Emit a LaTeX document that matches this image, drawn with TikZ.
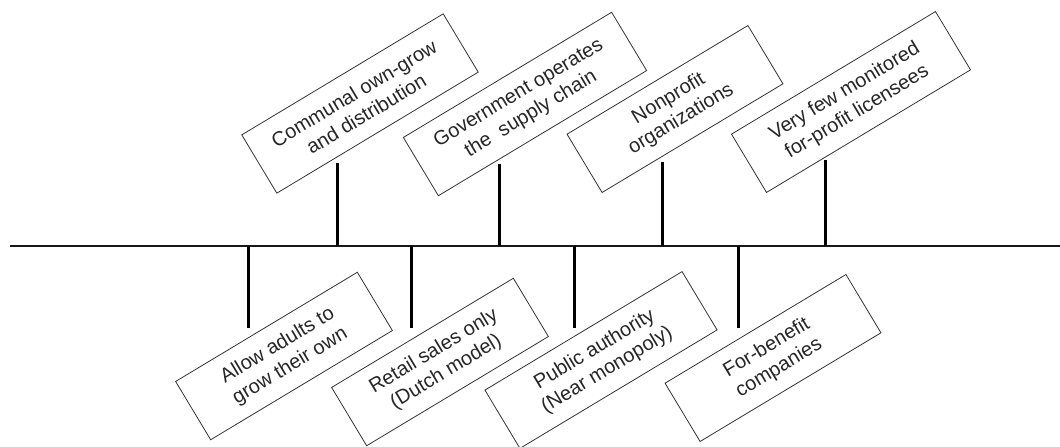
\documentclass[tikz,border=0pt]{standalone}
\usepackage{fontspec}
\setmainfont{Liberation Sans}
\begin{document}
\begin{tikzpicture}[x=1pt,y=-1pt,
  lab/.style={draw=black!80, line width=0.8pt, rectangle, rotate=31, minimum height=68pt,
    align=center, inner sep=1pt, text=black!85, font=\fontsize{20}{24}\selectfont},
  axis/.style={line width=2.6pt, black!90},
  tick/.style={line width=3pt, black}]
\useasboundingbox (0,0) rectangle (1060,447);
% axis
\coordinate (L) at (10,246);
\coordinate (R) at (1060,246);
\draw[axis] (L) -- (R);
% top boxes
\node[lab, minimum width=235pt] (b1) at (360,103.5) {Communal own-grow\\and distribution};
\node[lab, minimum width=243pt] (b2) at (525,104) {Government operates\\the\ \ supply chain};
\node[lab, minimum width=211pt] (b3) at (675,109) {Nonprofit\\organizations};
\node[lab, minimum width=238pt] (b4) at (851,102) {Very few monitored\\for-profit licensees};
% bottom boxes
\node[lab, minimum width=212pt] (b5) at (284,356) {Allow adults to\\grow their own};
\node[lab, minimum width=212pt] (b6) at (440,362) {Retail sales only\\(Dutch model)};
\node[lab, minimum width=230pt] (b7) at (601,360) {Public authority\\(Near monopoly)};
\node[lab, minimum width=211pt] (b8) at (773,358) {For-benefit\\companies};
% tick coordinates
\coordinate (a1) at (337,246); \coordinate (e1) at (337,163);
\coordinate (a2) at (499,246); \coordinate (e2) at (499,164);
\coordinate (a3) at (662,246); \coordinate (e3) at (662,162);
\coordinate (a4) at (825,246); \coordinate (e4) at (825,160);
\coordinate (a5) at (248,246); \coordinate (e5) at (248,328);
\coordinate (a6) at (411,246); \coordinate (e6) at (411,328);
\coordinate (a7) at (574,246); \coordinate (e7) at (574,328);
\coordinate (a8) at (738,246); \coordinate (e8) at (738,328);
\foreach \i in {1,...,8} {\draw[tick] (a\i) -- (e\i);}
\end{tikzpicture}
\end{document}
